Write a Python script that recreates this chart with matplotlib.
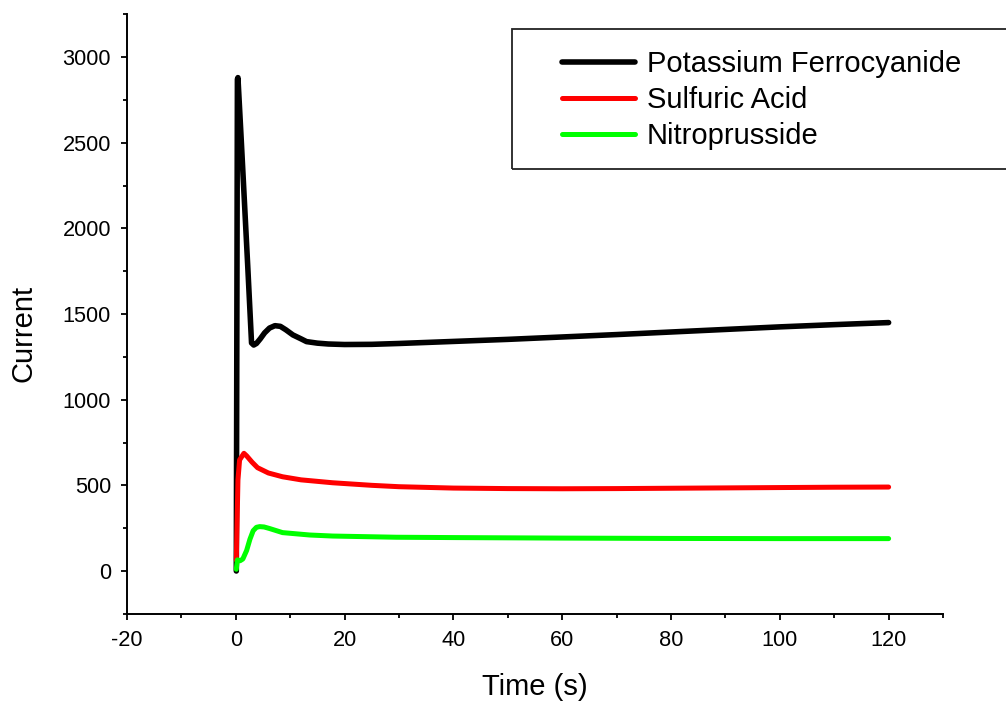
import matplotlib
matplotlib.use("Agg")
import matplotlib.pyplot as plt
from matplotlib.patches import Rectangle

plt.rcParams['font.family'] = ['Liberation Sans', 'DejaVu Sans']
plt.rcParams['axes.unicode_minus'] = False

# Potassium Ferrocyanide
t_ferro = [0.1, 0.3, 0.4, 1.0, 1.6, 2.2, 2.9, 3.3, 3.8, 4.5, 5.3, 6.2, 7.2, 8.2,
           9.2, 10.5, 12.0, 13.0, 15.0, 17.0, 20.0, 25.0, 30.0, 40.0, 50.0, 60.0,
           70.0, 80.0, 90.0, 100.0, 110.0, 120.0]
i_ferro = [0, 2870, 2880, 2520, 2150, 1780, 1331, 1319, 1328, 1355, 1390, 1418,
           1432, 1428, 1408, 1378, 1355, 1339, 1330, 1325, 1322, 1323, 1328, 1340,
           1352, 1366, 1380, 1395, 1410, 1425, 1438, 1450]

# Sulfuric Acid
t_sulf = [0.1, 0.4, 0.7, 1.5, 2.0, 3.0, 4.0, 6.0, 8.6, 12.0, 17.8, 25.0, 30.0,
          40.0, 50.0, 60.0, 70.0, 80.0, 90.0, 100.0, 110.0, 120.0]
i_sulf = [64, 531, 648, 687, 672, 635, 603, 572, 550, 532, 515, 500, 492, 484,
          481, 480, 481, 483, 485, 487, 489, 490]

# Nitroprusside
t_nitro = [0.1, 0.3, 0.8, 1.3, 2.0, 2.6, 3.2, 3.8, 4.4, 5.2, 6.2, 8.6, 13.6,
           17.8, 29.5, 40.0, 60.0, 80.0, 100.0, 120.0]
i_nitro = [10, 65, 60, 70, 120, 185, 235, 255, 259, 257, 248, 224, 210, 204,
           197, 195, 192, 190, 189, 189]

labels = ['Potassium Ferrocyanide', 'Sulfuric Acid', 'Nitroprusside']
colors = ['#000000', '#ff0000', '#00ff00']
widths = [4.0, 3.6, 3.6]

fig = plt.figure(figsize=(10.06, 7.04), dpi=100)
ax = fig.add_axes([0.1262, 0.1281, 0.8112, 0.8517])

lines = []
for t, i, lab, c, w in zip([t_ferro, t_sulf, t_nitro], [i_ferro, i_sulf, i_nitro],
                           labels, colors, widths):
    ln, = ax.plot(t, i, color=c, lw=w, label=lab, solid_capstyle='round', solid_joinstyle='round')
    lines.append(ln)

ax.set_xlim(-20, 130)
ax.set_ylim(-250, 3250)
ax.set_xticks(range(-20, 121, 20))
ax.set_xticks(range(-20, 131, 10), minor=True)
ax.set_yticks(range(0, 3001, 500))
ax.set_yticks(range(-250, 3251, 250), minor=True)

for s in ['top', 'right']:
    ax.spines[s].set_visible(False)
for s in ['left', 'bottom']:
    ax.spines[s].set_linewidth(1.4)

ax.tick_params(which='major', direction='out', length=4.5, width=1.3, labelsize=15.7, pad=7)
ax.tick_params(which='minor', direction='out', length=3, width=1.3)

ax.set_xlabel('Time (s)', fontsize=21)
ax.set_ylabel('Current', fontsize=21)
ax.xaxis.set_label_coords(0.5, -0.098)
ax.yaxis.set_label_coords(-0.110, 0.467)

# legend box drawn by hand so it can run off the right edge like the original
fig.patches.append(Rectangle((512 / 1006, 1 - 169 / 704), 0.6, 140 / 704,
                             transform=fig.transFigure, fill=False,
                             edgecolor='#222222', lw=1.3))
fig.legend(handles=lines, loc='upper left', bbox_to_anchor=(562 / 1006, 1 - 50 / 704),
           frameon=False, fontsize=21, handlelength=2.5, handletextpad=0.4,
           labelspacing=0.28, borderpad=0, borderaxespad=0)

fig.savefig('out.png', dpi=100)
